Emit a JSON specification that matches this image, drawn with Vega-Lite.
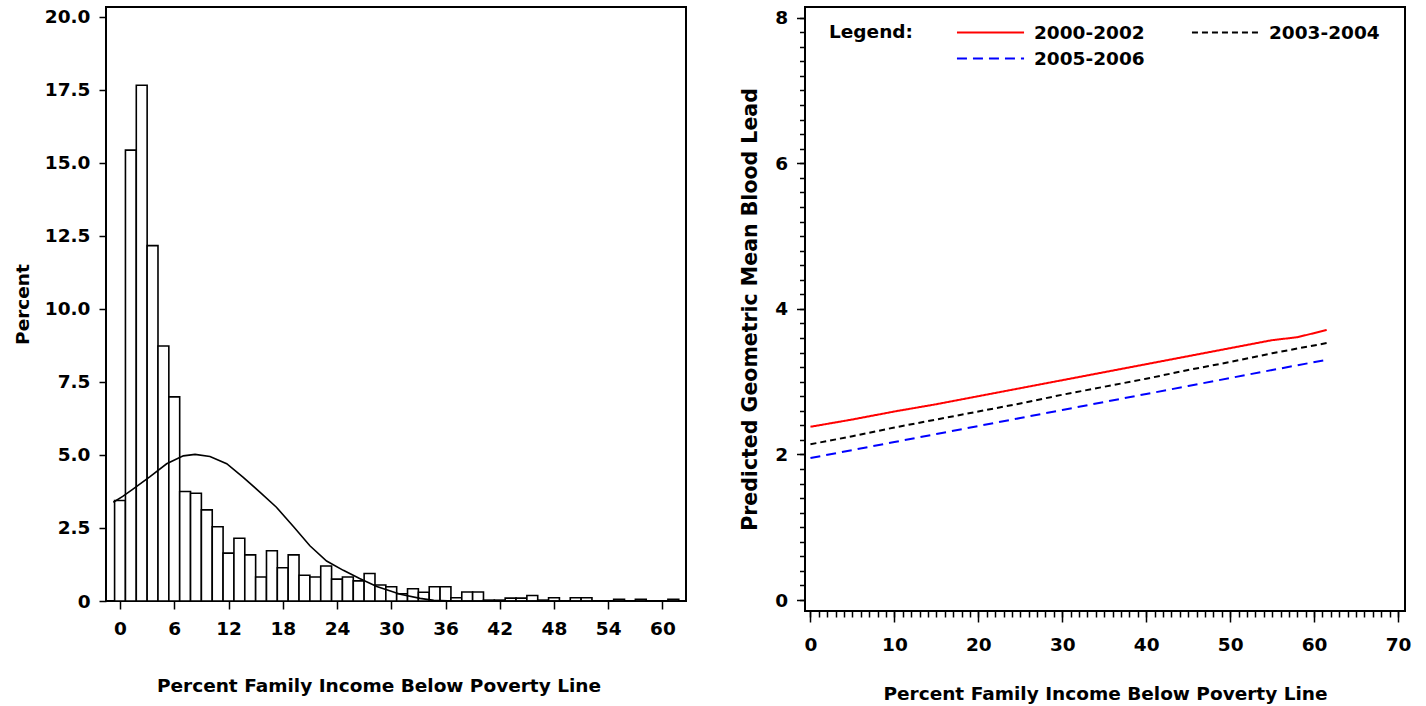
{
  "$schema": "https://vega.github.io/schema/vega-lite/v6.json",
  "background": "white",
  "padding": {"left": 12, "top": 6, "right": 5, "bottom": 0},
  "spacing": 52,
  "config": {
    "view": {"stroke": "black", "strokeWidth": 2},
    "axis": {
      "labelFont": "DejaVu Sans", "labelFontWeight": "bold", "labelFontSize": 18.5, "labelColor": "black",
      "titleFont": "DejaVu Sans", "titleFontWeight": "bold", "titleFontSize": 18.5, "titleColor": "black",
      "tickColor": "black", "tickWidth": 1.5, "domain": false, "grid": false, "labelFlush": false, "labelOverlap": false
    },
    "legend": {
      "orient": "none", "legendX": 723, "legendY": 13, "titleOrient": "left", "titleAnchor": "start",
      "titleBaseline": "line-top", "titleLineHeight": 26,
      "columns": 2, "direction": "horizontal", "symbolType": "M-3,0H3", "symbolSize": 500, "symbolStrokeWidth": 2,
      "labelFont": "DejaVu Sans", "labelFontWeight": "bold", "labelFontSize": 18.5, "labelColor": "black",
      "titleFont": "DejaVu Sans", "titleFontWeight": "bold", "titleFontSize": 18.5, "titleColor": "black",
      "titlePadding": 65, "labelOffset": 31, "columnPadding": 42, "rowPadding": 4, "labelLimit": 300
    }
  },
  "hconcat": [
    {
      "width": 580,
      "height": 594,
      "layer": [
        {
          "data": {"values": [
            {"lo": -0.6, "hi": 0.6, "pct": 3.44},
            {"lo": 0.6, "hi": 1.8, "pct": 15.44},
            {"lo": 1.8, "hi": 3.0, "pct": 17.66},
            {"lo": 3.0, "hi": 4.2, "pct": 12.17},
            {"lo": 4.2, "hi": 5.4, "pct": 8.73},
            {"lo": 5.4, "hi": 6.6, "pct": 6.99},
            {"lo": 6.6, "hi": 7.8, "pct": 3.75},
            {"lo": 7.8, "hi": 9.0, "pct": 3.69},
            {"lo": 9.0, "hi": 10.2, "pct": 3.12},
            {"lo": 10.2, "hi": 11.4, "pct": 2.54},
            {"lo": 11.4, "hi": 12.6, "pct": 1.64},
            {"lo": 12.6, "hi": 13.8, "pct": 2.15},
            {"lo": 13.8, "hi": 15.0, "pct": 1.58},
            {"lo": 15.0, "hi": 16.2, "pct": 0.82},
            {"lo": 16.2, "hi": 17.4, "pct": 1.72},
            {"lo": 17.4, "hi": 18.6, "pct": 1.14},
            {"lo": 18.6, "hi": 19.8, "pct": 1.58},
            {"lo": 19.8, "hi": 21.0, "pct": 0.88},
            {"lo": 21.0, "hi": 22.2, "pct": 0.82},
            {"lo": 22.2, "hi": 23.4, "pct": 1.2},
            {"lo": 23.4, "hi": 24.6, "pct": 0.75},
            {"lo": 24.6, "hi": 25.8, "pct": 0.82},
            {"lo": 25.8, "hi": 27.0, "pct": 0.69},
            {"lo": 27.0, "hi": 28.2, "pct": 0.94},
            {"lo": 28.2, "hi": 29.4, "pct": 0.55},
            {"lo": 29.4, "hi": 30.6, "pct": 0.49},
            {"lo": 30.6, "hi": 31.8, "pct": 0.25},
            {"lo": 31.8, "hi": 33.0, "pct": 0.42},
            {"lo": 33.0, "hi": 34.2, "pct": 0.3},
            {"lo": 34.2, "hi": 35.4, "pct": 0.49},
            {"lo": 35.4, "hi": 36.6, "pct": 0.49},
            {"lo": 36.6, "hi": 37.8, "pct": 0.11},
            {"lo": 37.8, "hi": 39.0, "pct": 0.31},
            {"lo": 39.0, "hi": 40.2, "pct": 0.31},
            {"lo": 40.2, "hi": 41.4, "pct": 0.03},
            {"lo": 41.4, "hi": 42.6, "pct": 0.03},
            {"lo": 42.6, "hi": 43.8, "pct": 0.1},
            {"lo": 43.8, "hi": 45.0, "pct": 0.1},
            {"lo": 45.0, "hi": 46.2, "pct": 0.19},
            {"lo": 46.2, "hi": 47.4, "pct": 0.03},
            {"lo": 47.4, "hi": 48.6, "pct": 0.11},
            {"lo": 49.8, "hi": 51.0, "pct": 0.11},
            {"lo": 51.0, "hi": 52.2, "pct": 0.11},
            {"lo": 54.6, "hi": 55.8, "pct": 0.06},
            {"lo": 57.0, "hi": 58.2, "pct": 0.06},
            {"lo": 60.6, "hi": 61.8, "pct": 0.06}
          ]},
          "mark": {"type": "rect", "fill": "white", "stroke": "black", "strokeWidth": 1.6},
          "encoding": {
            "x": {"field": "lo", "type": "quantitative",
              "scale": {"domain": [-1.55, 62.6], "nice": false, "zero": false},
              "axis": {"values": [0, 6, 12, 18, 24, 30, 36, 42, 48, 54, 60], "title": "Percent Family Income Below Poverty Line",
                "tickSize": 8, "labelPadding": 10, "titlePadding": 39, "titleX": 272.5}},
            "x2": {"field": "hi"},
            "y": {"field": "pct", "type": "quantitative",
              "scale": {"domain": [0, 20.34], "nice": false, "zero": false},
              "axis": {"values": [0, 2.5, 5, 7.5, 10, 12.5, 15, 17.5, 20],
                "labelExpr": "datum.value == 0 ? '0' : format(datum.value, '.1f')",
                "title": "Percent", "tickSize": 7, "labelPadding": 9, "titlePadding": 12}},
            "y2": {"datum": 0}
          }
        },
        {
          "data": {"values": [
            {"x": -0.74, "y": 3.38}, {"x": 0.3, "y": 3.58}, {"x": 1.47, "y": 3.84}, {"x": 3.32, "y": 4.26},
            {"x": 5.16, "y": 4.7}, {"x": 7.0, "y": 4.97}, {"x": 8.3, "y": 5.02}, {"x": 9.95, "y": 4.95},
            {"x": 11.8, "y": 4.7}, {"x": 13.6, "y": 4.24}, {"x": 15.5, "y": 3.72}, {"x": 17.3, "y": 3.21},
            {"x": 19.2, "y": 2.54}, {"x": 21.0, "y": 1.89}, {"x": 22.85, "y": 1.37}, {"x": 24.7, "y": 1.05},
            {"x": 26.5, "y": 0.77}, {"x": 28.4, "y": 0.5}, {"x": 31.0, "y": 0.23}, {"x": 33.2, "y": 0.09},
            {"x": 34.7, "y": 0.02}, {"x": 37.0, "y": 0.0}, {"x": 61.8, "y": 0.0}
          ]},
          "mark": {"type": "line", "color": "black", "strokeWidth": 1.6},
          "encoding": {
            "x": {"field": "x", "type": "quantitative"},
            "y": {"field": "y", "type": "quantitative"}
          }
        }
      ]
    },
    {
      "width": 600,
      "height": 604,
      "data": {"values": [
        {"period": "2000-2002", "pov": 0, "lead": 2.38},
        {"period": "2000-2002", "pov": 5, "lead": 2.48},
        {"period": "2000-2002", "pov": 10, "lead": 2.59},
        {"period": "2000-2002", "pov": 15, "lead": 2.69},
        {"period": "2000-2002", "pov": 20, "lead": 2.8},
        {"period": "2000-2002", "pov": 25, "lead": 2.91},
        {"period": "2000-2002", "pov": 30, "lead": 3.02},
        {"period": "2000-2002", "pov": 35, "lead": 3.13},
        {"period": "2000-2002", "pov": 40, "lead": 3.24},
        {"period": "2000-2002", "pov": 45, "lead": 3.35},
        {"period": "2000-2002", "pov": 50, "lead": 3.46},
        {"period": "2000-2002", "pov": 55, "lead": 3.57},
        {"period": "2000-2002", "pov": 58, "lead": 3.61},
        {"period": "2000-2002", "pov": 61.5, "lead": 3.71},
        {"period": "2003-2004", "pov": 0, "lead": 2.14},
        {"period": "2003-2004", "pov": 5, "lead": 2.25},
        {"period": "2003-2004", "pov": 10, "lead": 2.37},
        {"period": "2003-2004", "pov": 15, "lead": 2.48},
        {"period": "2003-2004", "pov": 20, "lead": 2.59},
        {"period": "2003-2004", "pov": 25, "lead": 2.7},
        {"period": "2003-2004", "pov": 30, "lead": 2.82},
        {"period": "2003-2004", "pov": 35, "lead": 2.93},
        {"period": "2003-2004", "pov": 40, "lead": 3.04},
        {"period": "2003-2004", "pov": 45, "lead": 3.16},
        {"period": "2003-2004", "pov": 50, "lead": 3.27},
        {"period": "2003-2004", "pov": 55, "lead": 3.39},
        {"period": "2003-2004", "pov": 61.5, "lead": 3.53},
        {"period": "2005-2006", "pov": 0, "lead": 1.95},
        {"period": "2005-2006", "pov": 5, "lead": 2.06},
        {"period": "2005-2006", "pov": 10, "lead": 2.17},
        {"period": "2005-2006", "pov": 15, "lead": 2.28},
        {"period": "2005-2006", "pov": 20, "lead": 2.39},
        {"period": "2005-2006", "pov": 25, "lead": 2.5},
        {"period": "2005-2006", "pov": 30, "lead": 2.61},
        {"period": "2005-2006", "pov": 35, "lead": 2.72},
        {"period": "2005-2006", "pov": 40, "lead": 2.83},
        {"period": "2005-2006", "pov": 45, "lead": 2.94},
        {"period": "2005-2006", "pov": 50, "lead": 3.05},
        {"period": "2005-2006", "pov": 55, "lead": 3.16},
        {"period": "2005-2006", "pov": 61.5, "lead": 3.3}
      ]},
      "layer": [
        {
          "mark": {"type": "line", "strokeWidth": 2},
          "encoding": {
            "x": {"field": "pov", "type": "quantitative",
              "scale": {"domain": [-0.65, 70.83], "nice": false, "zero": false},
              "axis": {"values": [0, 10, 20, 30, 40, 50, 60, 70], "title": "Percent Family Income Below Poverty Line",
                "orient": "bottom", "tickSize": 11, "labelPadding": 13, "titlePadding": 31}},
            "y": {"field": "lead", "type": "quantitative",
              "scale": {"domain": [-0.151, 8.147], "nice": false, "zero": false},
              "axis": {"values": [0, 2, 4, 6, 8], "title": "Predicted Geometric Mean Blood Lead", "orient": "left",
                "tickSize": 8.5, "labelPadding": 9, "titlePadding": 14, "titleFontSize": 20.5}},
            "color": {"field": "period", "type": "nominal",
              "scale": {"domain": ["2000-2002", "2003-2004", "2005-2006"], "range": ["#ff0000", "#000000", "#0000ff"]},
              "legend": {"title": "Legend:"}},
            "strokeDash": {"field": "period", "type": "nominal",
              "scale": {"domain": ["2000-2002", "2003-2004", "2005-2006"], "range": [[1, 0], [6, 4], [10, 6]]},
              "legend": {"title": "Legend:"}}
          }
        },
        {
          "mark": {"type": "line", "opacity": 0},
          "encoding": {
            "x": {"field": "pov", "type": "quantitative",
              "axis": {"values": [0,1,2,3,4,5,6,7,8,9,10,11,12,13,14,15,16,17,18,19,20,21,22,23,24,25,26,27,28,29,30,31,32,33,34,35,36,37,38,39,40,41,42,43,44,45,46,47,48,49,50,51,52,53,54,55,56,57,58,59,60,61,62,63,64,65,66,67,68,69,70],
                "orient": "bottom", "tickSize": 6, "labels": false, "title": null}},
            "y": {"field": "lead", "type": "quantitative",
              "axis": {"values": [0,0.2,0.4,0.6,0.8,1,1.2,1.4,1.6,1.8,2,2.2,2.4,2.6,2.8,3,3.2,3.4,3.6,3.8,4,4.2,4.4,4.6,4.8,5,5.2,5.4,5.6,5.8,6,6.2,6.4,6.6,6.8,7,7.2,7.4,7.6,7.8,8],
                "orient": "left", "tickSize": 5.5, "labels": false, "title": null}}
          }
        }
      ],
      "resolve": {"axis": {"x": "independent", "y": "independent"}}
    }
  ]
}
